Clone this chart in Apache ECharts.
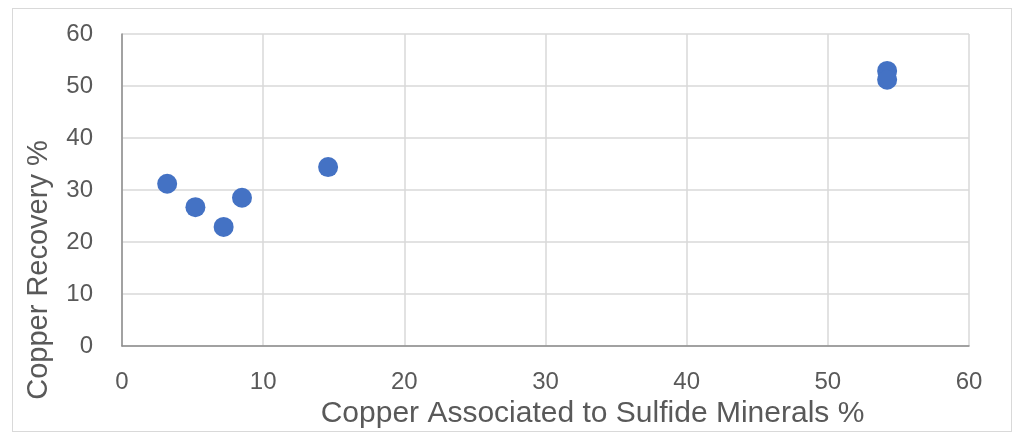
<!DOCTYPE html>
<html>
<head>
<meta charset="utf-8">
<script src="https://cdn.jsdelivr.net/npm/echarts@6/dist/echarts.min.js"></script>
<style>
  html, body { margin: 0; padding: 0; background: #fff; }
  #chart { width: 1019px; height: 439px; }
  .frame { position: absolute; left: 12px; top: 8px; width: 1000px; height: 424px; border: 1px solid #d9d9d9; box-sizing: border-box; pointer-events: none; }
</style>
</head>
<body>
<div id="chart"></div>
<div class="frame"></div>
<script>
// 散点数据
var sulfideCu = [3.2, 5.2, 7.2, 8.5, 14.6, 54.2, 54.2];
var recovery = [31.2, 26.7, 22.9, 28.5, 34.4, 52.9, 51.2];
var xTitle = "Copper Associated to Sulfide Minerals %";
var yTitle = "Copper Recovery %";

(function () {
  var myChart = echarts.init(document.getElementById("chart"));
  var points = sulfideCu.map(function (x, i) { return [x, recovery[i]]; });
  var font = "'Liberation Sans', sans-serif";
  var option = {
    animation: false,
    grid: { left: 122, right: 50, top: 34, bottom: 93 },
    xAxis: {
      type: "value", min: 0, max: 60, interval: 10,
      name: xTitle, nameLocation: "middle", nameGap: 50,
      // 标题偏右，用左侧padding推过去
      nameTextStyle: { color: "#595959", fontSize: 30, fontFamily: font, padding: [0, 0, 0, 94] },
      axisLine: { show: true, lineStyle: { color: "#8c8c8c", width: 1.5 } },
      axisTick: { show: false },
      axisLabel: { color: "#595959", fontSize: 24, fontFamily: font, margin: 24 },
      splitLine: { lineStyle: { color: "#d9d9d9", width: 1.5 } }
    },
    yAxis: {
      type: "value", min: 0, max: 60, interval: 10,
      name: yTitle, nameLocation: "middle", nameGap: 69,
      nameTextStyle: { color: "#595959", fontSize: 29, fontFamily: font, padding: [0, 160, 0, 0] },
      axisLine: { show: true, lineStyle: { color: "#8c8c8c", width: 1.5 } },
      axisTick: { show: false },
      axisLabel: { color: "#595959", fontSize: 24, fontFamily: font, margin: 29 },
      splitLine: { lineStyle: { color: "#d9d9d9", width: 1.5 } }
    },
    series: [{
      type: "scatter",
      symbolSize: 20,
      itemStyle: { color: "#4472c4", opacity: 1 },
      data: points
    }]
  };
  myChart.setOption(option);
})();
</script>
</body>
</html>
